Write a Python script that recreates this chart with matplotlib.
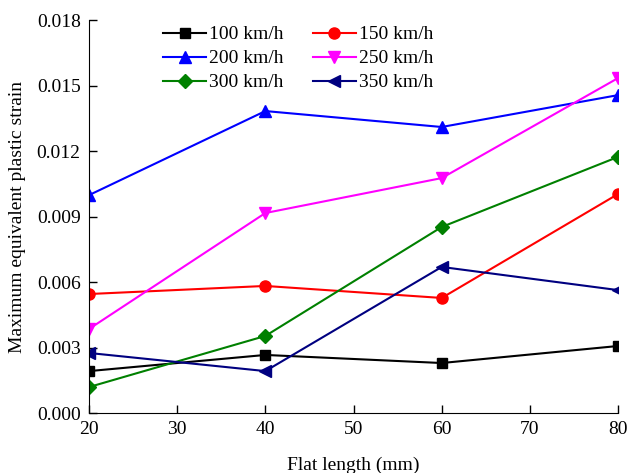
import numpy as np
import matplotlib.pyplot as plt

plt.rcParams['font.family'] = ['Liberation Serif', 'DejaVu Serif']
plt.rcParams['font.size'] = 14

# flat length (mm)
flat_length = [20, 40, 60, 80]

# maximum equivalent plastic strain for each speed
strain_100 = [0.00192, 0.00266, 0.00229, 0.00307]
strain_150 = [0.00545, 0.00582, 0.00527, 0.01003]
strain_200 = [0.00998, 0.01383, 0.01310, 0.01456]
strain_250 = [0.00385, 0.00916, 0.01076, 0.01534]
strain_300 = [0.00119, 0.00353, 0.00852, 0.01173]
strain_350 = [0.00275, 0.00192, 0.00669, 0.00563]

speeds = ['100 km/h', '150 km/h', '200 km/h', '250 km/h', '300 km/h', '350 km/h']

fig = plt.figure(figsize=(6.3, 4.73), dpi=100)
ax = fig.add_axes([0.1413, 0.1268, 0.8397, 0.8309])

series = [strain_100, strain_150, strain_200, strain_250, strain_300, strain_350]
colors = ['black', 'red', 'blue', 'magenta', 'green', 'navy']
markers = ['s', 'o', '^', 'v', 'D', '<']
sizes = [7, 8, 8.5, 8.5, 7, 8.5]

handles = []
for y, lab, c, m, ms in zip(series, speeds, colors, markers, sizes):
    ln, = ax.plot(flat_length, y, color=c, marker=m, markersize=ms, lw=1.5, label=lab)
    handles.append(ln)

ax.set_xlim(20, 80)
ax.set_ylim(0, 0.018)
ax.set_xticks(np.arange(20, 81, 10))
yt = np.arange(0, 0.0181, 0.003)
ax.set_yticks(yt)
ax.set_yticklabels([f'{v:.3f}' for v in yt])

ax.spines['top'].set_visible(False)
ax.spines['right'].set_visible(False)
ax.tick_params(direction='in', length=6, width=1, labelsize=14, pad=6)

ax.set_xlabel('Flat length (mm)', fontsize=14, labelpad=13)
ax.set_ylabel('Maximum equivalent plastic strain', fontsize=14, labelpad=8)

# row-wise legend order: 100/150, 200/250, 300/350
order = [0, 2, 4, 1, 3, 5]
ax.legend([handles[i] for i in order], [speeds[i] for i in order],
          ncol=2, frameon=False, loc='upper left', bbox_to_anchor=(0.115, 1.02),
          handlelength=2.2, columnspacing=1.5, labelspacing=0.33,
          handletextpad=0.15, borderpad=0.2, fontsize=14)

fig.savefig('out.png', dpi=100)
